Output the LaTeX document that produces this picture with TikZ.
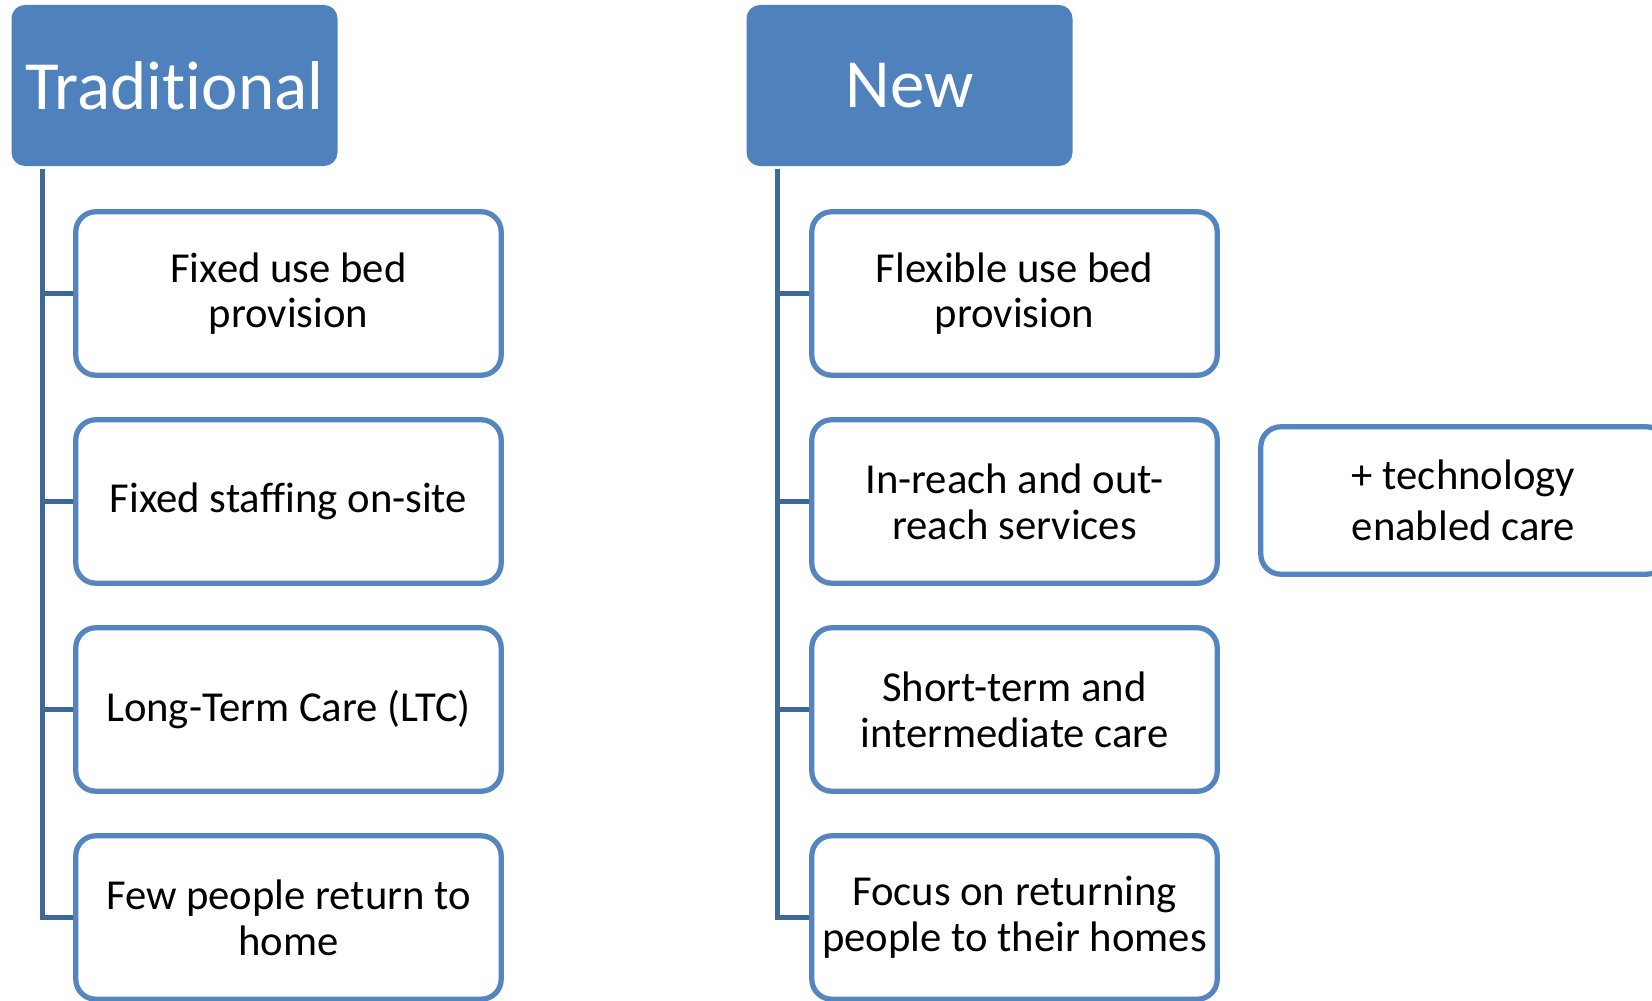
\documentclass[tikz,border=0pt]{standalone}
\usepackage{fontspec}
\setmainfont{Carlito}[Ligatures={NoCommon}]
\usepackage{xcolor}
\definecolor{care_blue}{RGB}{79, 129, 189}
\definecolor{care_edge}{RGB}{85, 133, 192}
\definecolor{care_line}{RGB}{63, 103, 151}
\usetikzlibrary{positioning, calc}

\begin{document}
\begin{tikzpicture}[
        x=0.02cm, y=-0.02cm,
        every node/.style={font=\fontsize{24.3}{26}\selectfont},
        head/.style={draw=care_blue, line width=0.6pt, fill=care_blue, text=white, rounded corners=0.26cm, minimum width=6.5cm, minimum height=3.2cm, font=\fontsize{39.3}{44}\selectfont},
        item/.style={draw=care_edge, line width=3pt, fill=white, rounded corners=0.4cm, minimum height=3.27cm, align=center},
        link/.style={care_line, line width=3.2pt},
      ]
        \useasboundingbox (0,0) rectangle (1652,1000);

        % traditional column
        \node[head] (trad) at (174.5,85.5) {Traditional};
        \node[item, minimum width=8.51cm] (t1) at (288.5,293.5) {Fixed use bed\\provision};
        \node[item, minimum width=8.51cm] (t2) at (288.5,501.5) {Fixed staffing on-site};
        \node[item, minimum width=8.51cm] (t3) at (288.5,709.5) {Long-Term Care (LTC)};
        \node[item, minimum width=8.51cm] (t4) at (288.5,917.5) {Few people return to\\home};

        % new column
        \node[head] (new) at (909.5,85.5) {New};
        \node[item, minimum width=8.11cm] (n1) at (1014.5,293.5) {Flexible use bed\\provision};
        \node[item, minimum width=8.11cm] (n2) at (1014.5,501.5) {In-reach and out-\\reach services};
        \node[item, minimum width=8.11cm] (n3) at (1014.5,709.5) {Short-term and\\intermediate care};
        \node[item, minimum width=8.11cm] (n4) at (1014.5,917.5) {Focus on returning\\people to their homes};
        \node[item, minimum width=8.11cm, minimum height=2.95cm, font=\fontsize{24.3}{29}\selectfont] (tech) at (1463.5,500.5) {+ technology\\enabled care};

        \coordinate (tsp) at ($(trad.south west)+(31,3)$);
        \coordinate (nsp) at ($(new.south west)+(31,3)$);

        \draw[link] (tsp) |- (t4.west);
        \draw[link] (t1.west) -- (t1.west -| tsp);
        \draw[link] (t2.west) -- (t2.west -| tsp);
        \draw[link] (t3.west) -- (t3.west -| tsp);

        \draw[link] (nsp) |- (n4.west);
        \draw[link] (n1.west) -- (n1.west -| nsp);
        \draw[link] (n2.west) -- (n2.west -| nsp);
        \draw[link] (n3.west) -- (n3.west -| nsp);
      \end{tikzpicture}
\end{document}
